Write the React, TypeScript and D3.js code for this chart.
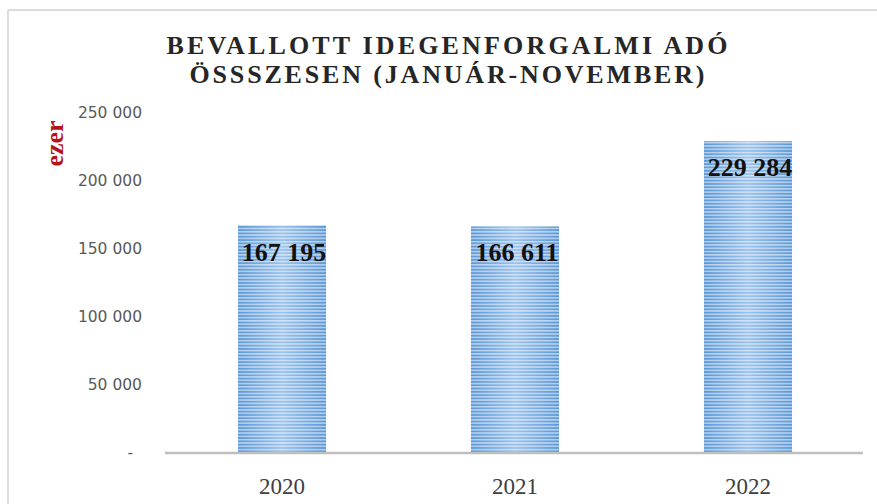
import React from "react";
import * as d3 from "d3";

const categories = ["2020", "2021", "2022"];
const values = [167195, 166611, 229284];
const valueLabels = ["167 195", "166 611", "229 284"];
const yTicks = [0, 50000, 100000, 150000, 200000, 250000];
const yTickLabels = ["-", "50 000", "100 000", "150 000", "200 000", "250 000"];
const titleLines = ["BEVALLOTT IDEGENFORGALMI ADÓ", "ÖSSSZESEN (JANUÁR-NOVEMBER)"];
const unitLabel = "ezer";

const W = 877;
const H = 504;

export default function App() {
  const x = d3.scaleBand<string>().domain(categories).range([165.5, 864.5]).paddingInner(0.622).paddingOuter(0.311);
  const y = d3.scaleLinear().domain([0, 250000]).range([453, 113]);
  const bw = x.bandwidth();

  return (
    <svg
      width={W}
      height={H}
      style={{ position: "absolute", left: 0, top: 0, background: "#fff" }}
      xmlns="http://www.w3.org/2000/svg"
    >
      <defs>
        <linearGradient id="barGrad" x1="0" x2="1" y1="0" y2="0">
          <stop offset="0" stopColor="#5b97d6" />
          <stop offset="0.5" stopColor="#9cc3ec" />
          <stop offset="1" stopColor="#5b97d6" />
        </linearGradient>
        <pattern id="stripes" width="8" height="3.3" patternUnits="userSpaceOnUse">
          <rect x="0" y="0" width="8" height="1.5" fill="#ffffff" fillOpacity="0.55" />
        </pattern>
      </defs>
      <rect x={0} y={0} width={W} height={H} fill="#fff" />
      <line x1={8} y1={10} x2={W} y2={10} stroke="#dcdcdc" strokeWidth={2} />
      <line x1={8} y1={10} x2={8} y2={H} stroke="#dcdcdc" strokeWidth={2} />

      {titleLines.map((t, i) => (
        <text
          key={t}
          x={447}
          y={54 + i * 29}
          textAnchor="middle"
          fontFamily="'Liberation Serif', 'DejaVu Serif', serif"
          fontSize={26}
          fontWeight="bold"
          fill="#262626"
          textLength={i === 0 ? 561 : 515}
          lengthAdjust="spacing"
        >
          {t}
        </text>
      ))}

      <text
        transform="translate(63,143.5) rotate(-90)"
        textAnchor="middle"
        fontFamily="'Liberation Serif', serif"
        fontSize={26}
        fontWeight="bold"
        fill="#b5121b"
      >
        {unitLabel}
      </text>

      {yTicks.map((t, i) => (
        <text
          key={t}
          x={i === 0 ? 133 : 142}
          y={y(t)}
          dy="0.35em"
          textAnchor="end"
          fontFamily="'DejaVu Sans', sans-serif"
          fontSize={15.5}
          fill="#595959"
        >
          {yTickLabels[i]}
        </text>
      ))}

      {categories.map((c, i) => {
        const bx = x(c)!;
        const by = y(values[i]);
        const bh = y(0) - by;
        return (
          <g key={c}>
            <rect x={bx} y={by} width={bw} height={bh} fill="url(#barGrad)" />
            <rect x={bx} y={by} width={bw} height={bh} fill="url(#stripes)" />
          </g>
        );
      })}

      <line x1={165} y1={y(0)} x2={863} y2={y(0)} stroke="#bfbfbf" strokeWidth={2.5} />

      {categories.map((c, i) => {
        const cx = x(c)! + bw / 2;
        const by = y(values[i]);
        return (
          <text
            key={c + "v"}
            x={cx + 2}
            y={by + 35}
            textAnchor="middle"
            fontFamily="'Liberation Serif', serif"
            fontSize={26}
            fontWeight="bold"
            fill="#111"
          >
            {valueLabels[i]}
          </text>
        );
      })}

      {categories.map((c) => (
        <text
          key={c + "x"}
          x={x(c)! + bw / 2}
          y={494}
          textAnchor="middle"
          fontFamily="'Liberation Serif', serif"
          fontSize={23}
          fill="#404040"
        >
          {c}
        </text>
      ))}
    </svg>
  );
}
